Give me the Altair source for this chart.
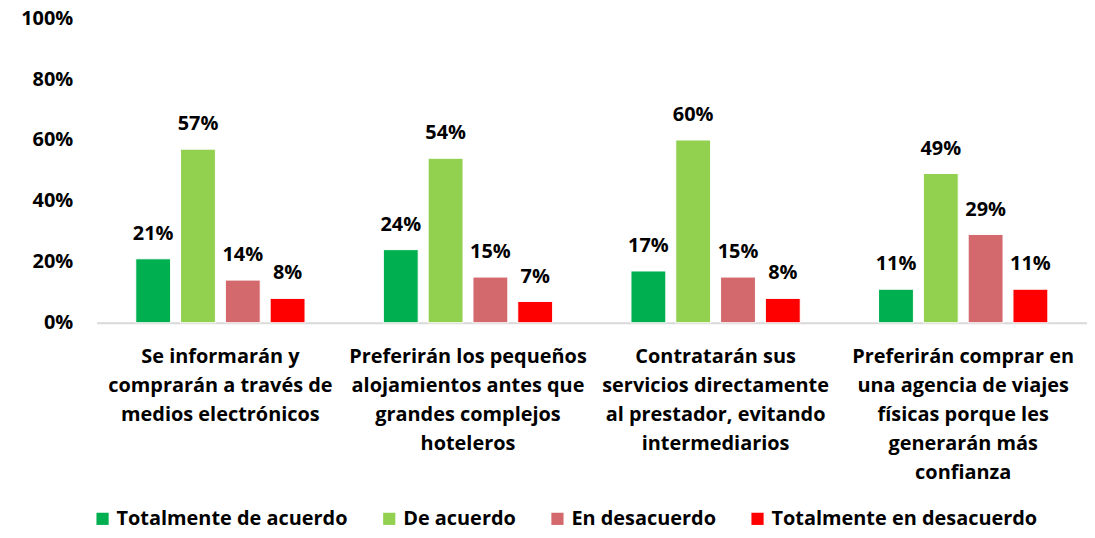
import altair as alt
import pandas as pd

categories = [
    "Se informarán y|comprarán a través de|medios electrónicos",
    "Preferirán los pequeños|alojamientos antes que|grandes complejos|hoteleros",
    "Contratarán sus|servicios directamente|al prestador, evitando|intermediarios",
    "Preferirán comprar en|una agencia de viajes|físicas porque les|generarán más|confianza",
]
series = ["Totalmente de acuerdo", "De acuerdo", "En desacuerdo", "Totalmente en desacuerdo"]
colors = ["#00B050", "#92D050", "#D4696D", "#FF0000"]
totalmente_de_acuerdo = [0.21, 0.24, 0.17, 0.11]
de_acuerdo = [0.57, 0.54, 0.60, 0.49]
en_desacuerdo = [0.14, 0.15, 0.15, 0.29]
totalmente_en_desacuerdo = [0.08, 0.07, 0.08, 0.11]
y_ticks = [0, 0.2, 0.4, 0.6, 0.8, 1.0]

rows = []
for s, vals in zip(series, [totalmente_de_acuerdo, de_acuerdo, en_desacuerdo, totalmente_en_desacuerdo]):
    for c, v in zip(categories, vals):
        rows.append({"cat": c, "serie": s, "value": v})
df = pd.DataFrame(rows)

FONT = "Open Sans"
FS = 20

x = alt.X("cat:N", sort=categories, title=None,
          scale=alt.Scale(paddingInner=0, paddingOuter=0),
          axis=alt.Axis(labelExpr="split(datum.label, '|')", labelAngle=0,
                        ticks=False, labelPadding=24, labelLineHeight=29,
                        labelFontSize=FS, labelFontWeight="bold", labelColor="#000000",
                        labelFont=FONT, domainColor="#D9D9D9", domainWidth=2,
                        labelBaseline="top", labelLimit=300))
xo = alt.XOffset("serie:N", sort=series,
                 scale=alt.Scale(paddingInner=0.222, paddingOuter=0.874))
y = alt.Y("value:Q", title=None,
          scale=alt.Scale(domain=[0, 1]),
          axis=alt.Axis(values=y_ticks, format=".0%", grid=False, domain=False, ticks=False,
                        labelPadding=24, labelFontSize=FS, labelFontWeight="bold",
                        labelColor="#000000", labelFont=FONT))
color = alt.Color("serie:N", sort=series,
                  scale=alt.Scale(domain=series, range=colors),
                  legend=alt.Legend(title=None, orient="none", direction="horizontal",
                                    legendX=-4, legendY=493, symbolType="square",
                                    symbolSize=150, symbolStrokeWidth=0, symbolOpacity=1,
                                    labelFontSize=FS, labelFontWeight="bold", labelFont=FONT,
                                    labelColor="#000000", columnPadding=31, labelOffset=4,
                                    labelLimit=400))

base = alt.Chart(df)
bars = base.mark_bar(stroke="white", strokeWidth=1).encode(x=x, xOffset=xo, y=y, color=color)
labels = base.mark_text(dy=-15, baseline="bottom", fontSize=FS, fontWeight="bold",
                        font=FONT, color="#000000").encode(
    x=alt.X("cat:N", sort=categories), xOffset=alt.XOffset("serie:N", sort=series),
    y="value:Q", text=alt.Text("value:Q", format=".0%"))

chart = (bars + labels).properties(
    width=995, height=306,
    autosize=alt.AutoSizeParams(type="none"),
    padding={"left": 89, "top": 9, "right": 0, "bottom": 207},
).configure_view(stroke=None)

chart.save("out.html", embed_options={"renderer": "svg", "actions": False})
